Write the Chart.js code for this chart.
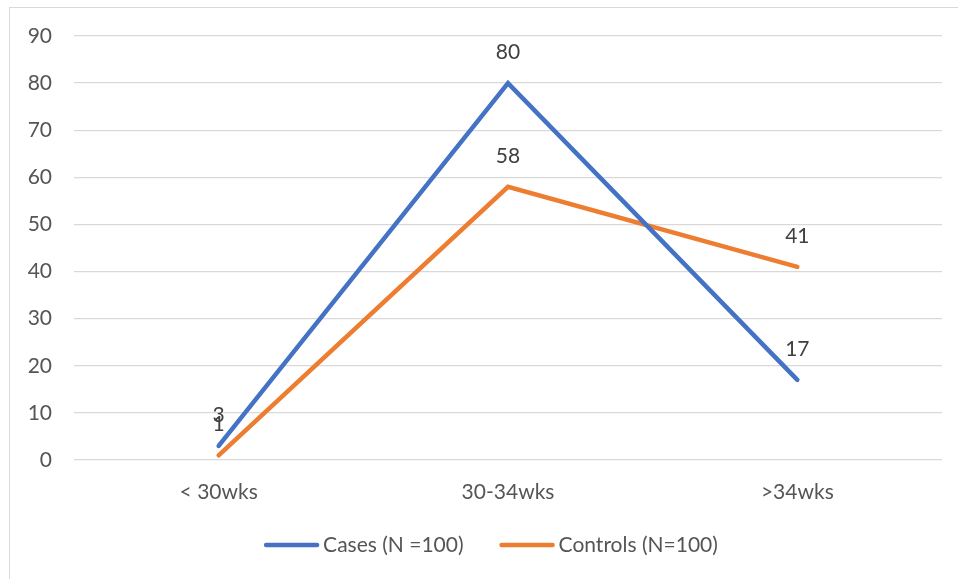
<!DOCTYPE html>
<html>
<head>
<meta charset="utf-8">
<script src="https://cdn.jsdelivr.net/npm/chart.js@4"></script>
<style>
  html, body { margin: 0; padding: 0; background: #fff; }
  #wrap { position: relative; width: 958px; height: 579px; overflow: hidden; }
  #frame { position: absolute; left: 9px; top: 7px; width: 1000px; height: 640px; border: 1px solid #d9d9d9; box-sizing: border-box; }
  canvas { position: absolute; left: 0; top: 0; }
</style>
</head>
<body>
<div id="wrap">
  <div id="frame"></div>
  <canvas id="c" width="958" height="579"></canvas>
</div>
<script>
// Gestational age groups and counts per group
const categories = ['< 30wks', '30-34wks', '>34wks'];
const casesValues = [3, 80, 17];
const controlsValues = [1, 58, 41];
const yTicks = [0, 10, 20, 30, 40, 50, 60, 70, 80, 90];

const FONT = 'Lato, "Open Sans", sans-serif';
const TEXT = '#555555';

// Writes each point's value above it
const valueLabels = {
  id: 'valueLabels',
  afterDatasetsDraw(chart) {
    const ctx = chart.ctx;
    ctx.save();
    ctx.font = '21px ' + FONT;
    ctx.fillStyle = '#404040';
    ctx.textAlign = 'center';
    ctx.textBaseline = 'middle';
    chart.data.datasets.forEach((ds, i) => {
      chart.getDatasetMeta(i).data.forEach((pt, j) => {
        ctx.fillText(String(ds.data[j]), pt.x, pt.y - 31);
      });
    });
    ctx.restore();
  }
};

// Line-sample legend centred under the chart frame
const lineLegend = {
  id: 'lineLegend',
  afterDraw(chart, args, opts) {
    const ctx = chart.ctx;
    const sample = 55, gap = 4, between = 36;
    ctx.save();
    ctx.font = '21px ' + FONT;
    const items = chart.data.datasets.map(ds => ({ ds, w: sample + gap + ctx.measureText(ds.label).width }));
    const total = items.reduce((s, it) => s + it.w, 0) + between * (items.length - 1);
    let x = opts.centerX - total / 2;
    const y = opts.y;
    items.forEach(it => {
      ctx.strokeStyle = it.ds.borderColor;
      ctx.lineWidth = 4.5;
      ctx.lineCap = 'round';
      ctx.beginPath();
      ctx.moveTo(x + 2, y);
      ctx.lineTo(x + sample - 2, y);
      ctx.stroke();
      ctx.fillStyle = TEXT;
      ctx.textAlign = 'left';
      ctx.textBaseline = 'middle';
      ctx.fillText(it.ds.label, x + sample + gap, y);
      x += it.w + between;
    });
    ctx.restore();
  }
};

new Chart(document.getElementById('c'), {
  type: 'line',
  data: {
    labels: categories,
    datasets: [
      { label: 'Cases (N =100)', data: casesValues, borderColor: '#4472C4', backgroundColor: '#4472C4',
        borderWidth: 4.5, pointRadius: 0, tension: 0, borderCapStyle: 'round' },
      { label: 'Controls (N=100)', data: controlsValues, borderColor: '#ED7D31', backgroundColor: '#ED7D31',
        borderWidth: 4.5, pointRadius: 0, tension: 0, borderCapStyle: 'round' }
    ]
  },
  options: {
    responsive: false,
    animation: false,
    layout: { padding: { left: 0, top: 36, right: 16, bottom: 77 } },
    plugins: {
      tooltip: { enabled: false },
      legend: { display: false },
      lineLegend: { centerX: 491, y: 545 }
    },
    scales: {
      x: {
        offset: true,
        grid: { display: false, drawTicks: false },
        border: { display: false },
        ticks: { font: { family: FONT, size: 21 }, color: TEXT, padding: 20 },
        afterFit(scale) { scale.height = 42; }
      },
      y: {
        min: 0, max: 90,
        afterBuildTicks(scale) { scale.ticks = yTicks.map(v => ({ value: v })); },
        grid: { color: '#d9d9d9', lineWidth: 1.3, drawTicks: false },
        border: { display: false },
        ticks: { font: { family: FONT, size: 21 }, color: TEXT, padding: 22 },
        afterFit(scale) { scale.width = 74; }
      }
    }
  },
  plugins: [valueLabels, lineLegend]
});
</script>
</body>
</html>
